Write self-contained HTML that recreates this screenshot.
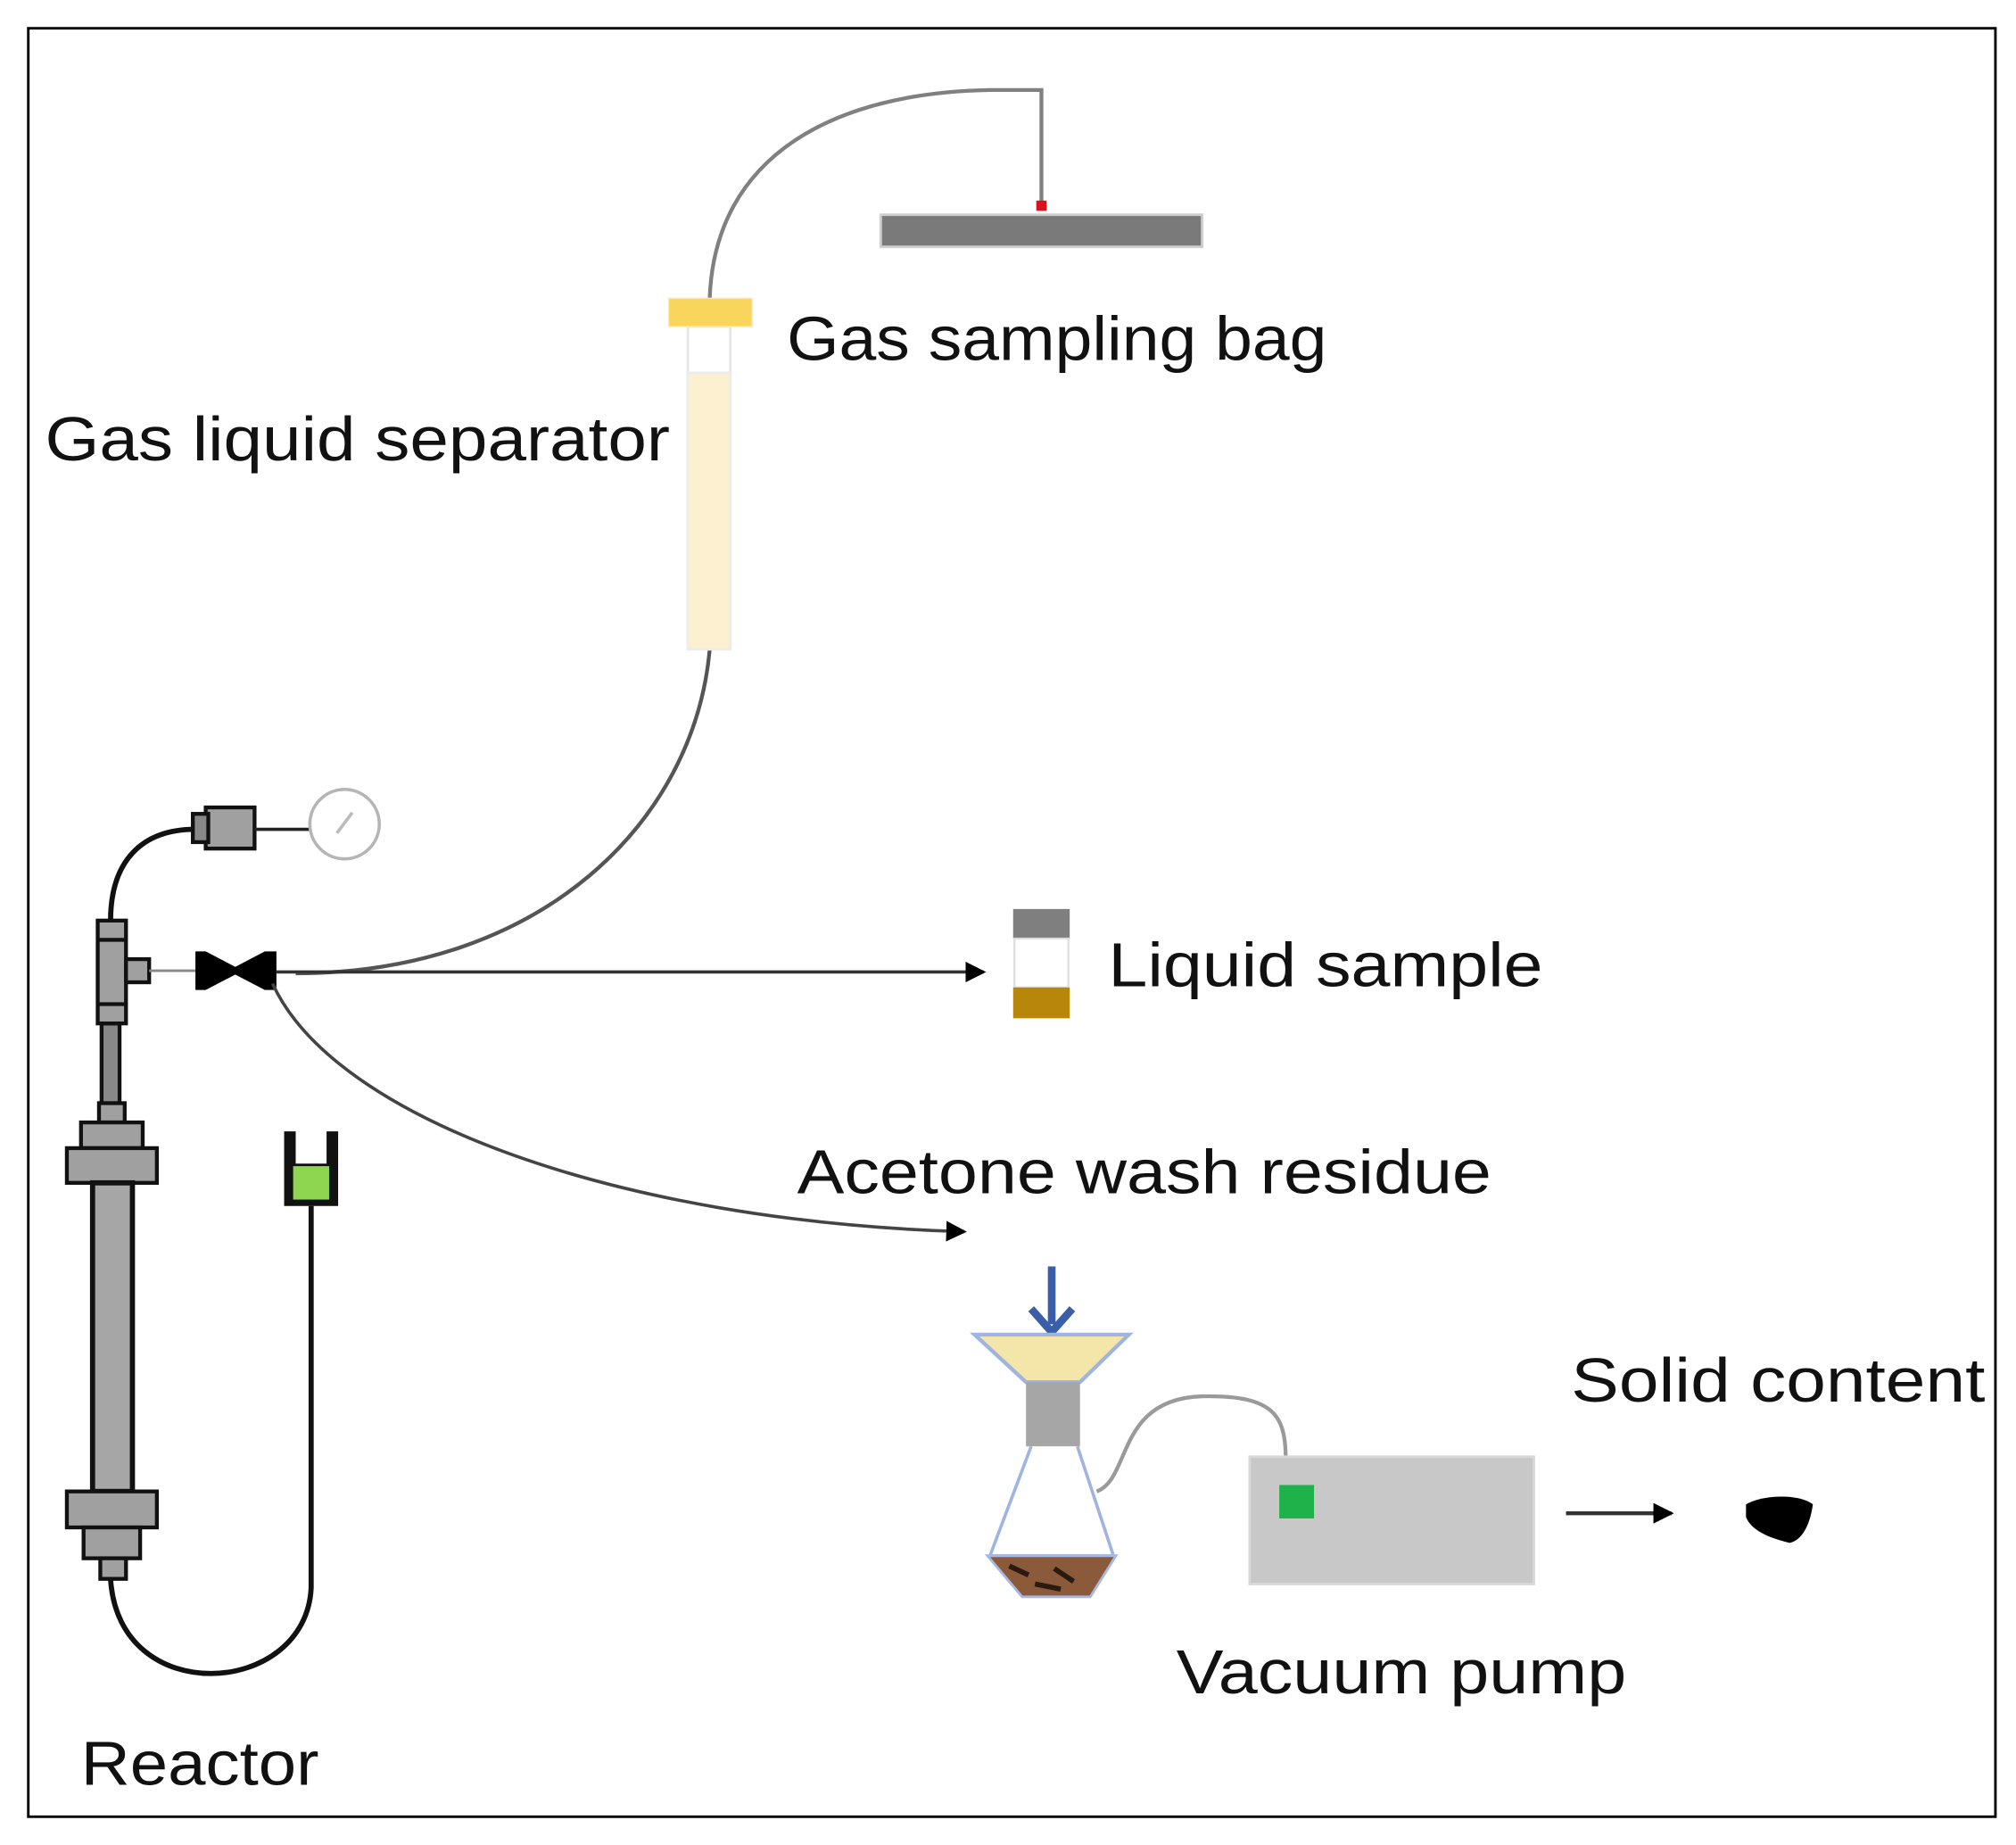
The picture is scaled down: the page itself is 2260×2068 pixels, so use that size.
<!DOCTYPE html>
<html><head><meta charset="utf-8"><style>
html,body{margin:0;padding:0;background:#fff;}
svg{display:block;}
text{font-family:"Liberation Sans",sans-serif;fill:#111;}
</style></head><body>
<svg width="2260" height="2068" viewBox="0 0 1568 1435" preserveAspectRatio="none" xmlns="http://www.w3.org/2000/svg">
<defs>
<marker id="ah" markerWidth="8" markerHeight="8" refX="7" refY="4" orient="auto" markerUnits="userSpaceOnUse">
<path d="M0,0 L8,4 L0,8 Z" fill="#000"/></marker>
<marker id="ah2" markerWidth="16" markerHeight="16" refX="14" refY="8" orient="auto" markerUnits="userSpaceOnUse">
<path d="M0,0 L16,8 L0,16 Z" fill="#000"/></marker>
</defs>
<rect x="22" y="22" width="1530" height="1391" fill="#fff" stroke="#000" stroke-width="2"/>

<!-- gas sampling bag -->
<rect x="685" y="167" width="250" height="25" fill="#7a7a7a" stroke="#cfcfcf" stroke-width="2"/>
<path d="M810,160 L810,70 L770,70 C650,72 556,120 552,232" fill="none" stroke="#808080" stroke-width="3"/>
<rect x="806" y="156" width="8" height="8" fill="#e0101a"/>

<!-- separator -->
<path d="M552,505 C540,640 420,757 230,757" fill="none" stroke="#555" stroke-width="3"/>
<rect x="535" y="254" width="33" height="36" fill="#fff" stroke="#e6e6e6" stroke-width="2"/>
<rect x="535" y="290" width="33" height="215" fill="#fdf0d0" stroke="#ececec" stroke-width="2"/>
<rect x="520" y="232" width="65" height="22" fill="#fad55c" stroke="#fbe9b8" stroke-width="1"/>

<!-- lines to gauge -->
<path d="M86,716 C86,670 110,645 152,645" fill="none" stroke="#111" stroke-width="4"/>
<rect x="160" y="628" width="38" height="32" fill="#a0a0a0" stroke="#111" stroke-width="3"/>
<rect x="150" y="633" width="12" height="22" fill="#888" stroke="#111" stroke-width="3"/>
<line x1="198" y1="645" x2="242" y2="645" stroke="#222" stroke-width="2.5"/>
<circle cx="268" cy="641" r="27" fill="#fff" stroke="#b5b5b5" stroke-width="2.5"/>
<line x1="262" y1="648" x2="274" y2="632" stroke="#bbb" stroke-width="2.5"/>

<!-- tee -->
<rect x="79" y="796" width="14" height="64" fill="#888" stroke="#111" stroke-width="3"/>
<rect x="76" y="716" width="22" height="80" fill="#a0a0a0" stroke="#111" stroke-width="3"/>
<line x1="76" y1="731" x2="98" y2="731" stroke="#111" stroke-width="3"/>
<line x1="76" y1="781" x2="98" y2="781" stroke="#111" stroke-width="3"/>
<rect x="98" y="746" width="18" height="18" fill="#a0a0a0" stroke="#111" stroke-width="3"/>
<line x1="116" y1="755" x2="152" y2="755" stroke="#888" stroke-width="2"/>

<!-- valve -->
<path d="M152,740 L160,740 L183,752 L206,740 L215,740 L215,770 L206,770 L183,758 L160,770 L152,770 Z" fill="#000"/>
<line x1="215" y1="756" x2="765" y2="756" stroke="#333" stroke-width="2.5" marker-end="url(#ah2)"/>
<path d="M212,765 C260,870 480,950 750,958" fill="none" stroke="#444" stroke-width="2.5" marker-end="url(#ah2)"/>

<!-- reactor -->
<rect x="77" y="858" width="20" height="15" fill="#a0a0a0" stroke="#111" stroke-width="3"/>
<rect x="63" y="873" width="48" height="20" fill="#a0a0a0" stroke="#111" stroke-width="3"/>
<rect x="52" y="893" width="70" height="27" fill="#a0a0a0" stroke="#111" stroke-width="3"/>
<rect x="72" y="920" width="31" height="240" fill="#a6a6a6" stroke="#111" stroke-width="4"/>
<rect x="52" y="1160" width="70" height="28" fill="#a0a0a0" stroke="#111" stroke-width="3"/>
<rect x="65" y="1188" width="44" height="24" fill="#a0a0a0" stroke="#111" stroke-width="3"/>
<rect x="78" y="1212" width="20" height="16" fill="#a0a0a0" stroke="#111" stroke-width="3"/>
<path d="M86,1228 C92,1330 238,1320 242,1235 L242,938" fill="none" stroke="#111" stroke-width="4"/>
<path d="M221,880 L230,880 L230,905 L254,905 L254,880 L263,880 L263,938 L221,938 Z" fill="#111"/>
<rect x="228" y="907" width="28" height="26" fill="#8fd650"/>

<!-- liquid sample -->
<rect x="788" y="707" width="44" height="23" fill="#7f7f7f"/>
<rect x="789" y="730" width="42" height="38" fill="#fff" stroke="#ddd" stroke-width="1.5"/>
<rect x="788" y="768" width="44" height="24" fill="#b8860b"/>

<!-- funnel & flask -->
<line x1="818" y1="985" x2="818" y2="1030" stroke="#3a5fa8" stroke-width="6"/>
<path d="M802,1018 L818,1036 L834,1018" fill="none" stroke="#3a5fa8" stroke-width="6"/>
<path d="M758,1038 L878,1038 L840,1075 L798,1075 Z" fill="#f4e6a8" stroke="#9fb4e0" stroke-width="3"/>
<rect x="798" y="1075" width="42" height="50" fill="#a6a6a6"/>
<path d="M802,1125 L770,1210 L866,1210 L838,1125" fill="#fff" stroke="#9fb4e0" stroke-width="2.5"/>
<path d="M768,1210 L868,1210 L848,1242 L795,1242 Z" fill="#8b5a3a" stroke="#a9b8e0" stroke-width="2"/>
<path d="M785,1218 L800,1225 M820,1220 L835,1230 M805,1232 L825,1236" stroke="#2b1a10" stroke-width="4"/>
<path d="M853,1160 C880,1150 868,1088 935,1086 C990,1085 1000,1100 1000,1135" fill="none" stroke="#9a9a9a" stroke-width="3"/>

<!-- pump -->
<rect x="972" y="1133" width="221" height="99" fill="#c8c8c8" stroke="#d8d8d8" stroke-width="2"/>
<rect x="995" y="1155" width="27" height="26" fill="#1fb24a"/>
<line x1="1218" y1="1177" x2="1300" y2="1177" stroke="#333" stroke-width="3" marker-end="url(#ah2)"/>
<path d="M1358,1170 C1372,1162 1400,1162 1410,1170 C1408,1185 1402,1198 1392,1200 C1375,1196 1362,1190 1358,1180 Z" fill="#000"/>

<!-- labels -->
<text x="612" y="280" font-size="48" textLength="420" lengthAdjust="spacingAndGlyphs">Gas sampling bag</text>
<text x="35" y="358" font-size="48" textLength="486" lengthAdjust="spacingAndGlyphs">Gas liquid separator</text>
<text x="862" y="767" font-size="48" textLength="338" lengthAdjust="spacingAndGlyphs">Liquid sample</text>
<text x="620" y="928" font-size="48" textLength="540" lengthAdjust="spacingAndGlyphs">Acetone wash residue</text>
<text x="1222" y="1090" font-size="48" textLength="322" lengthAdjust="spacingAndGlyphs">Solid content</text>
<text x="915" y="1317" font-size="48" textLength="350" lengthAdjust="spacingAndGlyphs">Vacuum pump</text>
<text x="63" y="1388" font-size="48" textLength="185" lengthAdjust="spacingAndGlyphs">Reactor</text>
</svg>
</body></html>
